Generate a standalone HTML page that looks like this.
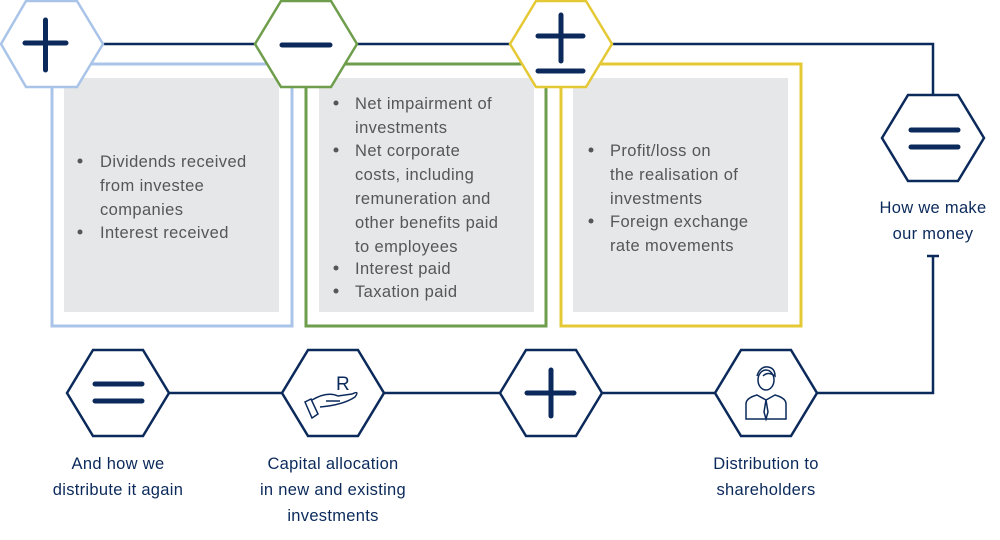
<!DOCTYPE html>
<html><head><meta charset="utf-8"><style>
html,body{margin:0;padding:0;background:#fff;}
svg{display:block;}
.t{font-family:"Liberation Sans",sans-serif;font-size:16.5px;letter-spacing:0.4px;fill:#555658;}
.n{font-family:"Liberation Sans",sans-serif;font-size:16.5px;letter-spacing:0.3px;fill:#0b2a5b;text-anchor:middle;}
</style></head><body>
<svg width="1000" height="540" viewBox="0 0 1000 540" xmlns="http://www.w3.org/2000/svg">
<rect x="52" y="64" width="240" height="262" fill="none" stroke="#a9c4e8" stroke-width="3"/>
<rect x="64" y="78" width="215" height="234" fill="#e6e7e8"/>
<rect x="306" y="64" width="240" height="262" fill="none" stroke="#6e9e4b" stroke-width="3"/>
<rect x="319" y="78" width="215" height="234" fill="#e6e7e8"/>
<rect x="561" y="64" width="240" height="262" fill="none" stroke="#e5c934" stroke-width="3"/>
<rect x="573" y="78" width="215" height="234" fill="#e6e7e8"/>
<g stroke="#0b2a5b" stroke-width="2.5" fill="none">
<polyline points="52,44 933,44 933,138"/>
<polyline points="927,256 939,256"/>
<polyline points="933,256 933,393 766,393"/>
<line x1="118" y1="393" x2="766" y2="393"/>
</g>
<g stroke-width="2.5" fill="#fff">
<polygon points="1,44 26,1 77,1 103,44 77,87 26,87" stroke="#a9c4e8"/>
<polygon points="255,44 281,1 331,1 357,44 331,87 281,87" stroke="#6e9e4b"/>
<polygon points="510,44 536,1 586,1 612,44 586,87 536,87" stroke="#e5c934"/>
<polygon points="882,138 908,95 958,95 984,138 958,181 908,181" stroke="#0b2a5b"/>
<polygon points="67,393 93,350 143,350 169,393 143,436 93,436" stroke="#0b2a5b"/>
<polygon points="282,393 308,350 358,350 384,393 358,436 308,436" stroke="#0b2a5b"/>
<polygon points="500,393 526,350 576,350 602,393 576,436 526,436" stroke="#0b2a5b"/>
<polygon points="715,393 741,350 791,350 817,393 791,436 741,436" stroke="#0b2a5b"/>
</g>
<g stroke="#0b2a5b" stroke-width="5" stroke-linecap="round" fill="none">
<line x1="25" y1="43" x2="66" y2="43"/><line x1="45.5" y1="20" x2="45.5" y2="70"/>
<line x1="282" y1="45" x2="330" y2="45"/>
<line x1="538" y1="36" x2="583" y2="36"/><line x1="561" y1="15" x2="561" y2="61"/><line x1="538" y1="71" x2="583" y2="71"/>
<line x1="911" y1="130" x2="958" y2="130"/><line x1="911" y1="147" x2="958" y2="147"/>
<line x1="95" y1="384" x2="142" y2="384"/><line x1="95" y1="401" x2="142" y2="401"/>
<line x1="527" y1="393" x2="574" y2="393"/><line x1="551" y1="370" x2="551" y2="416"/>
</g>
<text x="343" y="390" class="n" style="font-size:19px">R</text>
<g stroke="#0b2a5b" stroke-width="1.5" fill="none">
<path d="M305,402 L312,418 L318,414 L311,399 Z"/>
<path d="M312,400 Q327,391 338,396 L352,394 Q360,390 355,397 Q343,405 320,407"/>
<path d="M326,401 L340,401"/>
<ellipse cx="766" cy="380" rx="8" ry="10"/>
<path d="M757,376 Q760,366 768,367 Q775,368 775,376 Q768,371 763,376"/>
<path d="M746,419 L746,404 Q746,398 757,395 L766,400 L775,395 Q786,398 786,404 L786,419 Z"/>
<path d="M766,400 L764,412 L766,419 L768,412 Z"/>
</g>
<g class="t">
<circle cx="80" cy="161" r="2.5" fill="#555658"/>
<text x="100" y="167">Dividends received</text>
<text x="100" y="191">from investee</text>
<text x="100" y="215">companies</text>
<circle cx="80" cy="232" r="2.5" fill="#555658"/>
<text x="100" y="238">Interest received</text>

<circle cx="336" cy="103" r="2.5" fill="#555658"/>
<text x="355" y="109">Net impairment of</text>
<text x="355" y="133">investments</text>
<circle cx="336" cy="150" r="2.5" fill="#555658"/>
<text x="355" y="156">Net corporate</text>
<text x="355" y="180">costs, including</text>
<text x="355" y="204">remuneration and</text>
<text x="355" y="228">other benefits paid</text>
<text x="355" y="252">to employees</text>
<circle cx="336" cy="268" r="2.5" fill="#555658"/>
<text x="355" y="274">Interest paid</text>
<circle cx="336" cy="291" r="2.5" fill="#555658"/>
<text x="355" y="297">Taxation paid</text>

<circle cx="591" cy="150" r="2.5" fill="#555658"/>
<text x="610" y="156">Profit/loss on</text>
<text x="610" y="180">the realisation of</text>
<text x="610" y="204">investments</text>
<circle cx="591" cy="221" r="2.5" fill="#555658"/>
<text x="610" y="227">Foreign exchange</text>
<text x="610" y="251">rate movements</text>
</g>
<g class="n">
<text x="933" y="213">How we make</text>
<text x="933" y="239">our money</text>
<text x="118" y="469">And how we</text>
<text x="118" y="495">distribute it again</text>
<text x="333" y="469">Capital allocation</text>
<text x="333" y="495">in new and existing</text>
<text x="333" y="521">investments</text>
<text x="766" y="469">Distribution to</text>
<text x="766" y="495">shareholders</text>
</g>
</svg>
</body></html>
